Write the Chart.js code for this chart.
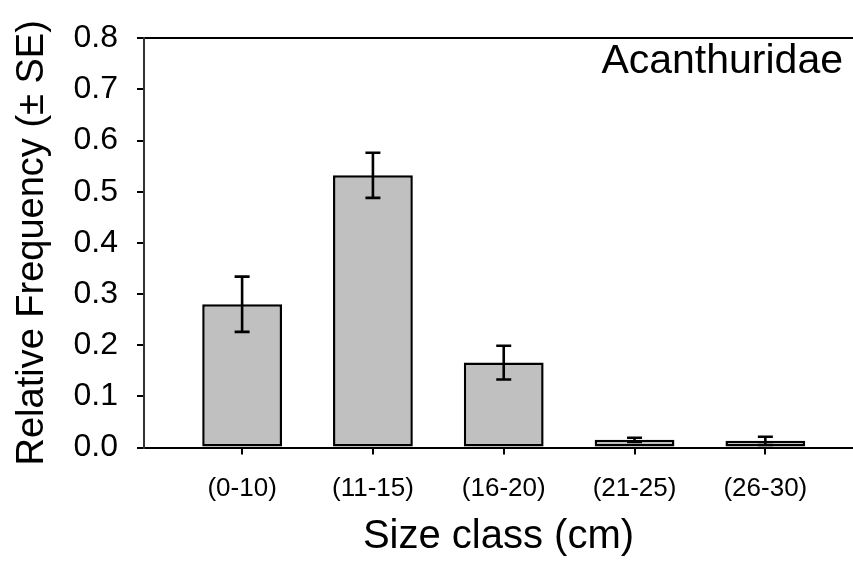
<!DOCTYPE html>
<html>
<head>
<meta charset="utf-8">
<script src="https://cdn.jsdelivr.net/npm/chart.js@4"></script>
<style>
  html, body { margin: 0; padding: 0; background: #fff; }
  #wrap { width: 853px; height: 561px; position: relative; }
</style>
</head>
<body>
<div id="wrap"><canvas id="sizeChart"></canvas></div>
<script>
var sizeClasses = ['(0-10)', '(11-15)', '(16-20)', '(21-25)', '(26-30)'];
var relFreq = [0.28, 0.532, 0.166, 0.015, 0.013];
var relFreqSE = [0.054, 0.044, 0.033, 0.004, 0.008];
var yTicks = [0, 0.1, 0.2, 0.3, 0.4, 0.5, 0.6, 0.7, 0.8];
var familyName = 'Acanthuridae';

var font = "'Liberation Sans', Arial, sans-serif";

// error bars (± SE) drawn on top of the bars
var errorBars = {
    id: 'errorBars',
    afterDatasetsDraw: function(chart) {
        var ctx = chart.ctx, xs = chart.scales.x, ys = chart.scales.y;
        ctx.save();
        ctx.strokeStyle = '#000';
        ctx.lineWidth = 2.6;
        relFreq.forEach(function(v, i) {
            var x = xs.getPixelForValue(i);
            var top = ys.getPixelForValue(v + relFreqSE[i]);
            var bot = ys.getPixelForValue(Math.max(v - relFreqSE[i], 0));
            ctx.beginPath();
            ctx.moveTo(x, top); ctx.lineTo(x, bot);
            ctx.moveTo(x - 7.5, top); ctx.lineTo(x + 7.5, top);
            ctx.moveTo(x - 7.5, bot); ctx.lineTo(x + 7.5, bot);
            ctx.stroke();
        });
        ctx.restore();
    }
};

var familyLabel = {
    id: 'familyLabel',
    afterDraw: function(chart) {
        var ctx = chart.ctx;
        ctx.save();
        ctx.font = '41px ' + font;
        ctx.fillStyle = '#000';
        ctx.textAlign = 'right';
        ctx.textBaseline = 'alphabetic';
        ctx.fillText(familyName, 843, 73);
        ctx.restore();
    }
};

var ctx = document.getElementById('sizeChart').getContext('2d');

var chart = new Chart(ctx, {
    type: 'bar',
    data: {
        datasets: [{
            data: relFreq.map(function(v, i) { return {x: i, y: v}; }),
            backgroundColor: '#c0c0c0',
            borderColor: '#000',
            borderWidth: 2.5,
            borderSkipped: false,
            categoryPercentage: 1,
            barPercentage: 0.61
        }]
    },
    options: {
        responsive: true,
        maintainAspectRatio: false,
        animation: false,
        layout: { padding: { top: 21, right: 0, bottom: 0, left: 0 } },
        plugins: {
            legend: { display: false },
            tooltip: { enabled: false }
        },
        scales: {
            x: {
                type: 'linear',
                offset: false,
                min: -0.75,
                max: 4.67,
                afterBuildTicks: function(s) {
                    s.ticks = sizeClasses.map(function(c, i) { return {value: i}; });
                },
                afterFit: function(s) { s.height = 113.5; },
                grid: { offset: false, drawOnChartArea: false, tickLength: 7, tickColor: '#000', lineWidth: 2 },
                border: { color: '#000', width: 2 },
                ticks: {
                    padding: 19,
                    color: '#000',
                    font: { family: font, size: 26 },
                    maxRotation: 0,
                    callback: function(v) { return sizeClasses[v]; }
                },
                title: {
                    display: true,
                    text: 'Size class (cm)',
                    color: '#000',
                    font: { family: font, size: 40 },
                    padding: { top: 0, bottom: 0 }
                }
            },
            y: {
                min: 0,
                max: 0.8,
                afterBuildTicks: function(s) {
                    s.ticks = yTicks.map(function(v) { return {value: v}; });
                },
                afterFit: function(s) { s.width = 144; },
                grid: {
                    color: function(c) { return c.tick && c.tick.value === 0.8 ? '#000' : 'rgba(0,0,0,0)'; },
                    tickColor: '#000',
                    tickLength: 7,
                    lineWidth: 2
                },
                border: { color: '#333', width: 2 },
                ticks: {
                    padding: 19,
                    color: '#000',
                    font: { family: font, size: 32 },
                    callback: function(v) { return v.toFixed(1); }
                },
                title: {
                    display: true,
                    text: 'Relative Frequency (± SE)',
                    color: '#000',
                    font: { family: font, size: 38 },
                    padding: { top: 10, bottom: 0 }
                }
            }
        }
    },
    plugins: [errorBars, familyLabel]
});
</script>
</body>
</html>
